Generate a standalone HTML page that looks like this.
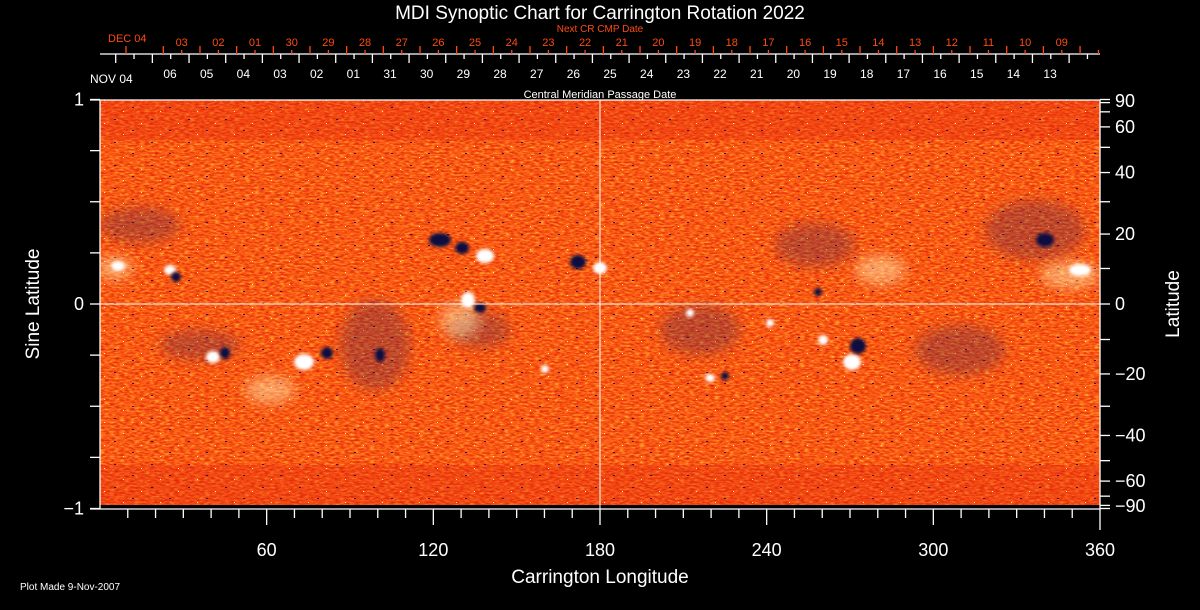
<!DOCTYPE html>
<html><head><meta charset="utf-8"><style>
html,body{margin:0;padding:0;background:#000;}
svg{display:block;font-family:"Liberation Sans",sans-serif;}
</style></head><body>
<svg id="s" width="1200" height="610" viewBox="0 0 1200 610" xmlns="http://www.w3.org/2000/svg">
<defs>
<filter id="noise" x="0" y="0" width="100%" height="100%" color-interpolation-filters="sRGB">
<feTurbulence type="fractalNoise" baseFrequency="0.2 0.55" numOctaves="2" seed="7" result="t"/>
<feColorMatrix in="t" type="matrix" values="1 0 0 0 0  1 0 0 0 0  1 0 0 0 0  0 0 0 0 1" result="g"/>
<feComponentTransfer in="g">
<feFuncR type="table" tableValues="0.75 0.88 0.95 1 1 1"/>
<feFuncG type="table" tableValues="0.08 0.15 0.28 0.42 0.65 0.9"/>
<feFuncB type="table" tableValues="0.05 0.05 0.06 0.1 0.18 0.4"/>
<feFuncA type="table" tableValues="1 1"/>
</feComponentTransfer>
</filter>
<filter id="b2"><feGaussianBlur stdDeviation="1.6"/></filter>
<filter id="b5"><feGaussianBlur stdDeviation="6"/></filter>
<pattern id="dots" width="37" height="23" patternUnits="userSpaceOnUse">
<rect x="3" y="4" width="2" height="1" fill="#201060"/>
<rect x="21" y="15" width="2" height="1" fill="#201060"/>
<rect x="30" y="8" width="1" height="1" fill="#fff0a0"/>
<rect x="12" y="19" width="1" height="1" fill="#fff0a0"/>
</pattern>
<clipPath id="cp"><rect x="100" y="100" width="1000" height="405"/></clipPath>
</defs>
<rect x="100" y="100" width="1000" height="405" fill="#f05018"/>
<rect x="100" y="100" width="1000" height="405" filter="url(#noise)"/>
<g clip-path="url(#cp)">
<rect x="100" y="100" width="1000" height="40" fill="#e02010" opacity="0.3"/>
<rect x="100" y="465" width="1000" height="40" fill="#e02010" opacity="0.3"/>
<rect x="100" y="100" width="1000" height="405" fill="url(#dots)"/>
<g fill="#402060" filter="url(#b5)" opacity="0.3">
<ellipse cx="1035" cy="230" rx="50" ry="30"/>
<ellipse cx="815" cy="245" rx="40" ry="22"/>
<ellipse cx="375" cy="345" rx="35" ry="45"/>
<ellipse cx="200" cy="345" rx="40" ry="15"/>
<ellipse cx="700" cy="330" rx="40" ry="25"/>
<ellipse cx="960" cy="350" rx="45" ry="25"/>
<ellipse cx="480" cy="330" rx="30" ry="18"/>
<ellipse cx="140" cy="225" rx="40" ry="18"/>
</g>
<g fill="#fff8c0" filter="url(#b5)" opacity="0.45">
<ellipse cx="115" cy="268" rx="18" ry="12"/>
<ellipse cx="1070" cy="275" rx="30" ry="14"/>
<ellipse cx="880" cy="270" rx="25" ry="15"/>
<ellipse cx="270" cy="390" rx="25" ry="14"/>
<ellipse cx="460" cy="320" rx="20" ry="18"/>
</g>
<g fill="#ffffff" filter="url(#b2)">
<ellipse cx="170" cy="270" rx="6" ry="5"/>
<ellipse cx="485" cy="256" rx="9" ry="7"/>
<ellipse cx="600" cy="268" rx="7" ry="6"/>
<ellipse cx="468" cy="300" rx="7" ry="8"/>
<ellipse cx="213" cy="357" rx="7" ry="6"/>
<ellipse cx="304" cy="362" rx="10" ry="8"/>
<ellipse cx="545" cy="369" rx="4" ry="4"/>
<ellipse cx="690" cy="313" rx="4" ry="4"/>
<ellipse cx="770" cy="323" rx="4" ry="4"/>
<ellipse cx="823" cy="340" rx="5" ry="5"/>
<ellipse cx="852" cy="362" rx="9" ry="8"/>
<ellipse cx="710" cy="378" rx="5" ry="4"/>
<ellipse cx="1080" cy="270" rx="11" ry="6"/>
<ellipse cx="118" cy="266" rx="7" ry="5"/>
</g>
<g fill="#0a0840" filter="url(#b2)">
<ellipse cx="176" cy="277" rx="5" ry="5"/>
<ellipse cx="440" cy="240" rx="11" ry="7"/>
<ellipse cx="462" cy="248" rx="7" ry="6"/>
<ellipse cx="578" cy="262" rx="8" ry="7"/>
<ellipse cx="480" cy="308" rx="6" ry="5"/>
<ellipse cx="225" cy="353" rx="5" ry="6"/>
<ellipse cx="327" cy="353" rx="6" ry="6"/>
<ellipse cx="858" cy="346" rx="8" ry="8"/>
<ellipse cx="725" cy="376" rx="4" ry="4"/>
<ellipse cx="818" cy="292" rx="4" ry="4"/>
<ellipse cx="1045" cy="240" rx="9" ry="7"/>
<ellipse cx="380" cy="355" rx="5" ry="7"/>
</g>
</g>
<line x1="100" y1="304" x2="1100" y2="304" stroke="#fff" stroke-width="1"/>
<line x1="600" y1="100" x2="600" y2="509" stroke="#fff" stroke-width="1"/>
<g id="ax" stroke="#fff" stroke-width="1.3" fill="none"></g>
<g id="tx" fill="#fff"></g>
<text x="600" y="19" font-size="19" text-anchor="middle" fill="#fff">MDI Synoptic Chart for Carrington Rotation 2022</text>
<text x="600" y="32" font-size="10" text-anchor="middle" fill="#ff4a10">Next CR CMP Date</text>
<text x="600" y="98" font-size="11" text-anchor="middle" fill="#fff">Central Meridian Passage Date</text>
<text x="600" y="583" font-size="19" text-anchor="middle" fill="#fff">Carrington Longitude</text>
<text transform="translate(39,304) rotate(-90)" font-size="19" text-anchor="middle" fill="#fff">Sine Latitude</text>
<text transform="translate(1179,304) rotate(-90)" font-size="19" text-anchor="middle" fill="#fff">Latitude</text>
<text x="20" y="590" font-size="10" fill="#fff">Plot Made  9-Nov-2007</text>
<text x="90" y="83" font-size="12" fill="#fff">NOV 04</text>
<text x="108" y="42" font-size="11" fill="#ff4a10">DEC 04</text>
</svg>
<script>
var ns="http://www.w3.org/2000/svg",ax=document.getElementById('ax'),tx=document.getElementById('tx');
function L(x1,y1,x2,y2,c){var l=document.createElementNS(ns,'line');l.setAttribute('x1',x1);l.setAttribute('y1',y1);l.setAttribute('x2',x2);l.setAttribute('y2',y2);if(c)l.setAttribute('stroke',c);ax.appendChild(l);}
function T(x,y,s,fs,anc,c){var t=document.createElementNS(ns,'text');t.setAttribute('x',x);t.setAttribute('y',y);t.setAttribute('font-size',fs);t.setAttribute('text-anchor',anc||'middle');if(c)t.setAttribute('fill',c);t.textContent=s;tx.appendChild(t);}
L(100,100,100,509);L(90,100,1100,100);L(90,509,1100,509);L(1100,100,1100,530);
var sl=[[1,'1'],[0,'0'],[-1,'\u22121']];
for(var i=-4;i<=4;i++){var y=304-204.5*i/4;L(90,y,100,y);}
sl.forEach(function(a){T(84,304-204.5*a[0]+6,a[1],18,'end');});
for(var d=-90;d<=90;d+=10){var y=304-204.5*Math.sin(d*Math.PI/180);L(1100,y,1110,y);}
[90,60,40,20,0,-20,-40,-60,-90].forEach(function(d){var y=304-204.5*Math.sin(d*Math.PI/180);if(d==90)y=101;if(d==-90)y=506;T(1115,y+6,(d<0?'\u2212':'')+Math.abs(d),18,'start');});
for(var g=10;g<360;g+=10){var x=100+g*1000/360;L(x,509,x,(g%60==0)?525:518);}
[60,120,180,240,300,360].forEach(function(g){T(100+g*1000/360,556,g,18);});
L(100,54,1100,54);
var st=115.7,sp=36.67;
for(var k=0;k<27;k++){var x=st+k*sp;if(x<=1100)L(x,54,x,63);var m=x+sp/2;if(m<1100)L(m,54,m,59);}
var wl=['06','05','04','03','02','01','31','30','29','28','27','26','25','24','23','22','21','20','19','18','17','16','15','14','13'];
wl.forEach(function(s,k){T(170+k*sp,78,s,12);});
var o='#ff4a10';L(126,46,126,54,o);
for(var k=0;k<26;k++){var x=163.3+k*sp;if(x<1100)L(x,46,x,54,o);var m=181.7+k*sp;if(m<1100)L(m,50,m,54,o);}
var ol=['03','02','01','30','29','28','27','26','25','24','23','22','21','20','19','18','17','16','15','14','13','12','11','10','09'];
ol.forEach(function(s,k){T(181.7+k*sp,46,s,11,'middle',o);});
</script>
</body></html>
